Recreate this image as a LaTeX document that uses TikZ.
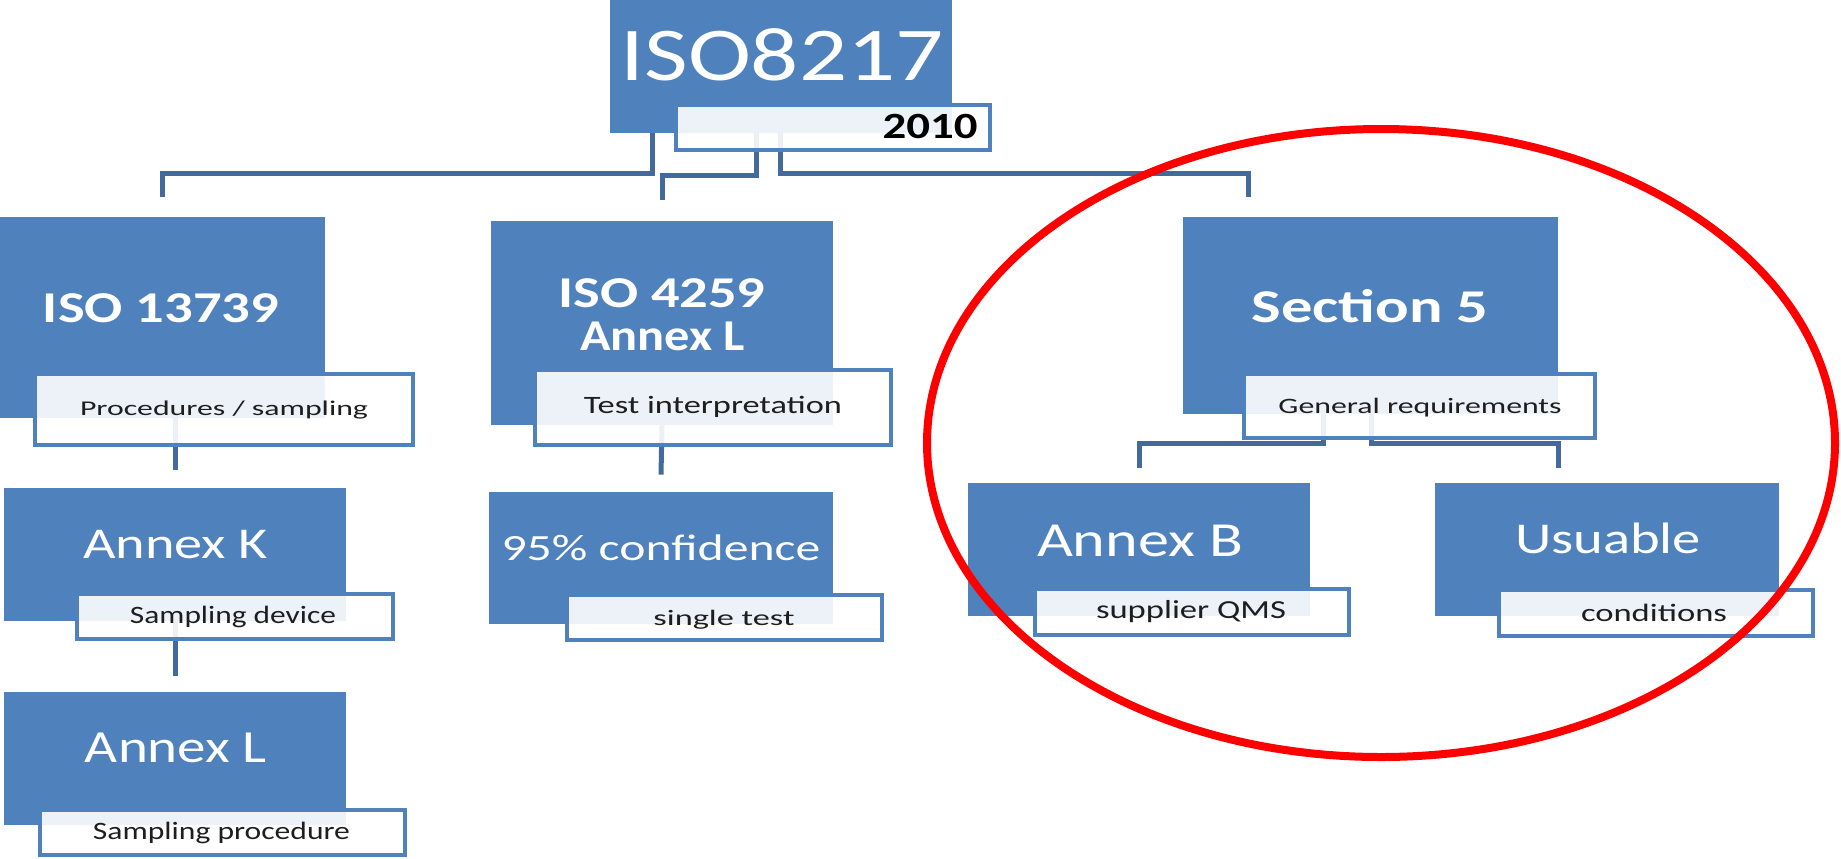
\documentclass[tikz,border=0pt]{standalone}
\usepackage{fontspec}
\setmainfont{Carlito}
\usetikzlibrary{fit,calc,shapes.geometric}
\definecolor{boxblue}{HTML}{4F81BD}
\definecolor{linkblue}{HTML}{44699C}
\definecolor{ringred}{HTML}{FF0000}
\definecolor{captext}{HTML}{1E1E1E}
\newdimen\pxu \pxu=0.5pt
% set a label at its natural height, stretched to a given width (in px units)
\newcommand\fitw[2]{\resizebox{#1\pxu}{\height}{#2}}
\newcommand\fsz[1]{\fontsize{#1}{#1}\selectfont}
\tikzset{
  blockbox/.style={fill=boxblue, draw=none, inner sep=0pt},
  tagbox/.style={fill=white, fill opacity=0.9, draw=boxblue, line width=2.2pt, inner sep=0pt},
  link/.style={draw=linkblue, line width=2.5pt},
  headtext/.style={text=white, inner sep=0pt, anchor=base},
  tagtext/.style={text=captext, inner sep=0pt, anchor=base},
}
\begin{document}
\begin{tikzpicture}[x=0.5pt, y=-0.5pt]
\fill[white] (0,0) rectangle (1841,858);
\useasboundingbox (0,0) rectangle (1841,858);

% main blocks
\node[blockbox, fit={(610,0) (952,133)}] (top) {};
\node[blockbox, fit={(0,217) (325,418)}] (iso1) {};
\node[blockbox, fit={(491,221) (833,425)}] (iso2) {};
\node[blockbox, fit={(1183,217) (1558,414)}] (sec5) {};
\node[blockbox, fit={(4,488) (346,621)}] (annk) {};
\node[blockbox, fit={(4,692) (346,825)}] (annl) {};
\node[blockbox, fit={(489,492) (833,624)}] (conf) {};
\node[blockbox, fit={(968,483) (1310,616)}] (annb) {};
\node[blockbox, fit={(1435,483) (1779,616)}] (usu) {};

% connectors
\draw[link] (top.south -| 652,0) -- ++(0,40) -| ($(iso1.north)+(0,-20)$);
\draw[link] (top.south -| 756,0) -- ++(0,42) -| ($(iso2.north)+(0,-21)$);
\draw[link] (top.south -| 780,0) -- ++(0,40) -| ($(sec5.north)+(-122,-20)$);
\draw[link] (iso1.south -| annk.north) -- ($(annk.north)+(0,-18)$);
\draw[link] (annk.south -| annl.north) -- ($(annl.north)+(0,-16)$);
\draw[link] (iso2.south) -- ($(conf.north)+(0,-17)$);
\draw[link] (sec5.south -| 1323,0) -- ++(0,29) -| ($(annb.north)+(0,-15)$);
\draw[link] (sec5.south -| 1371,0) -- ++(0,29) -| ($(usu.north)+(-49,-15)$);

% caption tabs
\node[tagbox, fit={(676,105) (990,150)}] (top-tab) {};
\node[tagbox, fit={(35,374) (413,445)}] (iso1-tab) {};
\node[tagbox, fit={(535,370) (891,445)}] (iso2-tab) {};
\node[tagbox, fit={(1244,374) (1595,438)}] (sec5-tab) {};
\node[tagbox, fit={(77,594) (393,639)}] (annk-tab) {};
\node[tagbox, fit={(40,810) (405,855)}] (annl-tab) {};
\node[tagbox, fit={(567,595) (882,640)}] (conf-tab) {};
\node[tagbox, fit={(1035,589) (1349,635)}] (annb-tab) {};
\node[tagbox, fit={(1499,590) (1813,636)}] (usu-tab) {};

% labels
\node[headtext, font=\fsz{38pt}] (t-top) at (782,80) {\fitw{323}{ISO8217}};
\node[tagtext, text=black, font=\fsz{18.5pt}\bfseries, anchor=base east] (t-year) at (978,138) {\fitw{95}{2010}};
\node[headtext, font=\fsz{22pt}\bfseries] (t-iso1) at (161,322) {\fitw{236}{ISO 13739}};
\node[tagtext, font=\fsz{10.5pt}] (t-proc) at (224,415) {\fitw{288}{Procedures / sampling}};
\node[headtext, font=\fsz{22pt}\bfseries] (t-iso2a) at (662,307) {\fitw{207}{ISO 4259}};
\node[headtext, font=\fsz{22pt}\bfseries] (t-iso2b) at (662.5,350) {\fitw{165}{Annex L}};
\node[tagtext, font=\fsz{12.5pt}] (t-interp) at (713,413) {\fitw{258}{Test interpretation}};
\node[headtext, font=\fsz{23.5pt}\bfseries] (t-sec5) at (1370,322) {\fitw{237}{Section 5}};
\node[tagtext, font=\fsz{11pt}] (t-gen) at (1420,413) {\fitw{283}{General requirements}};
\node[headtext, font=\fsz{22pt}] (t-annk) at (175.5,558) {\fitw{185}{Annex K}};
\node[tagtext, font=\fsz{12.5pt}] (t-dev) at (233,623) {\fitw{206}{Sampling device}};
\node[headtext, font=\fsz{23pt}] (t-annl) at (176,762) {\fitw{182}{Annex L}};
\node[tagtext, font=\fsz{12.5pt}] (t-sproc) at (221.5,839) {\fitw{257}{Sampling procedure}};
\node[headtext, font=\fsz{18.5pt}] (t-conf) at (661,560) {\fitw{319}{95\% confidence}};
\node[tagtext, font=\fsz{11pt}] (t-single) at (724,625) {\fitw{141}{single test}};
\node[headtext, font=\fsz{24.5pt}] (t-annb) at (1140,556) {\fitw{206}{Annex B}};
\node[tagtext, font=\fsz{13pt}] (t-qms) at (1191,618) {\fitw{190}{supplier QMS}};
\node[headtext, font=\fsz{22pt}] (t-usu) at (1608,553) {\fitw{186}{Usuable}};
\node[tagtext, font=\fsz{12.5pt}] (t-cond) at (1654,621) {\fitw{146}{conditions}};

% highlight ring
\node[ellipse, draw=ringred, line width=4pt, inner sep=0pt,
      minimum width=908\pxu, minimum height=628\pxu] (ring) at (1381,443) {};
\end{tikzpicture}
\end{document}
